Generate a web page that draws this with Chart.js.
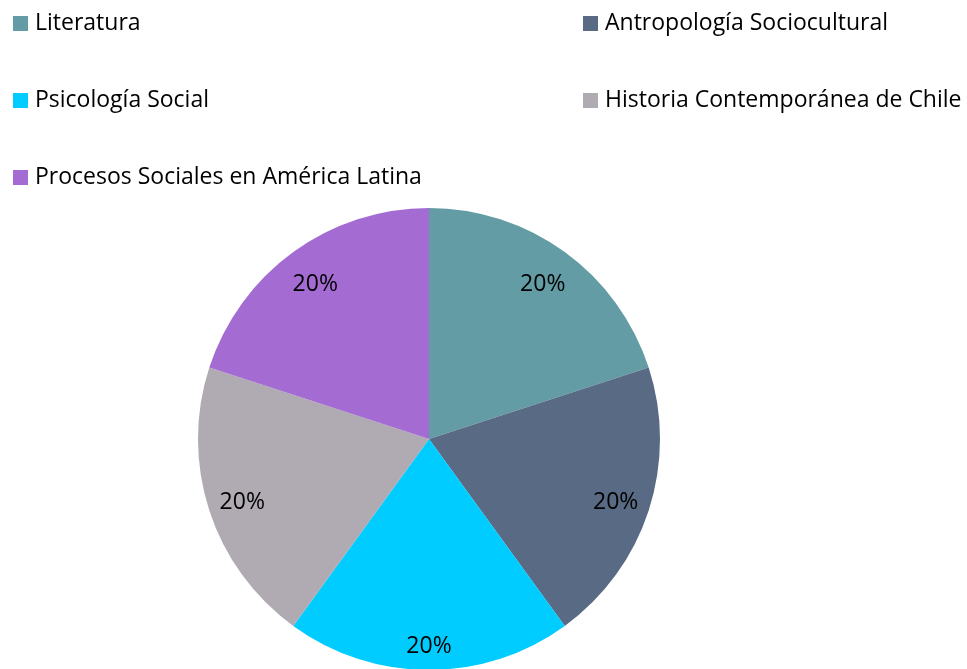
<!DOCTYPE html>
<html><head><meta charset="utf-8">
<script src="https://cdn.jsdelivr.net/npm/chart.js@4/dist/chart.umd.min.js"></script>
<style>
html,body{margin:0;padding:0;background:#fff;overflow:hidden;width:967px;height:669px;}
#wrap{position:relative;width:967px;height:680px;}
canvas{position:absolute;left:0;top:0;}
.leg{position:absolute;font-family:"Open Sans",Lato,sans-serif;font-size:23px;color:#000;white-space:nowrap;line-height:23px;}
.leg span.box{position:absolute;left:0;top:6px;width:15px;height:15px;}
.leg span.t{position:absolute;left:22px;top:0;}
</style></head>
<body><div id="wrap"><canvas id="c" width="967" height="680"></canvas></div>
<script>
const categories = ["Literatura","Antropología Sociocultural","Psicología Social","Historia Contemporánea de Chile","Procesos Sociales en América Latina"];
const values = [20,20,20,20,20];
const colors = ["#639CA5","#596A84","#00CCFF","#B0AAB2","#A46CD3"];
const legendPos = [[13,10],[583,10],[13,87],[583,87],[13,164]];

const wrap = document.getElementById('wrap');
categories.forEach((name,i)=>{
  const d=document.createElement('div');
  d.className='leg';
  d.style.left=legendPos[i][0]+'px';
  d.style.top=legendPos[i][1]+'px';
  d.innerHTML='<span class="box" style="background:'+colors[i]+'"></span><span class="t"></span>';
  d.querySelector('.t').textContent=name;
  wrap.appendChild(d);
});

const total = values.reduce((a,b)=>a+b,0);
const labelPlugin = {
  id:'pctLabels',
  afterDatasetsDraw(chart){
    const ctx=chart.ctx;
    const meta=chart.getDatasetMeta(0);
    ctx.save();
    ctx.font='23px "Open Sans", Lato, sans-serif';
    ctx.fillStyle='#000';
    ctx.textAlign='center';
    ctx.textBaseline='middle';
    meta.data.forEach((arc,i)=>{
      const mid=(arc.startAngle+arc.endAngle)/2;
      const phi=mid+Math.PI/2; // angle from 12 o'clock
      const a=28, b=26;
      const ext=Math.abs(Math.sin(phi))*a+Math.abs(Math.cos(phi))*b;
      const r=arc.outerRadius-ext;
      const x=arc.x+Math.cos(mid)*r;
      const y=arc.y+Math.sin(mid)*r+2.5;
      ctx.fillText(Math.round(values[i]/total*100)+'%',x,y);
    });
    ctx.restore();
  }
};

new Chart(document.getElementById('c'),{
  type:'pie',
  data:{labels:categories,datasets:[{data:values,backgroundColor:colors,borderWidth:0}]},
  options:{
    responsive:false,animation:false,
    layout:{padding:{left:198,right:307,top:208,bottom:10}},
    plugins:{legend:{display:false},tooltip:{enabled:false}}
  },
  plugins:[labelPlugin]
});
</script></body></html>
